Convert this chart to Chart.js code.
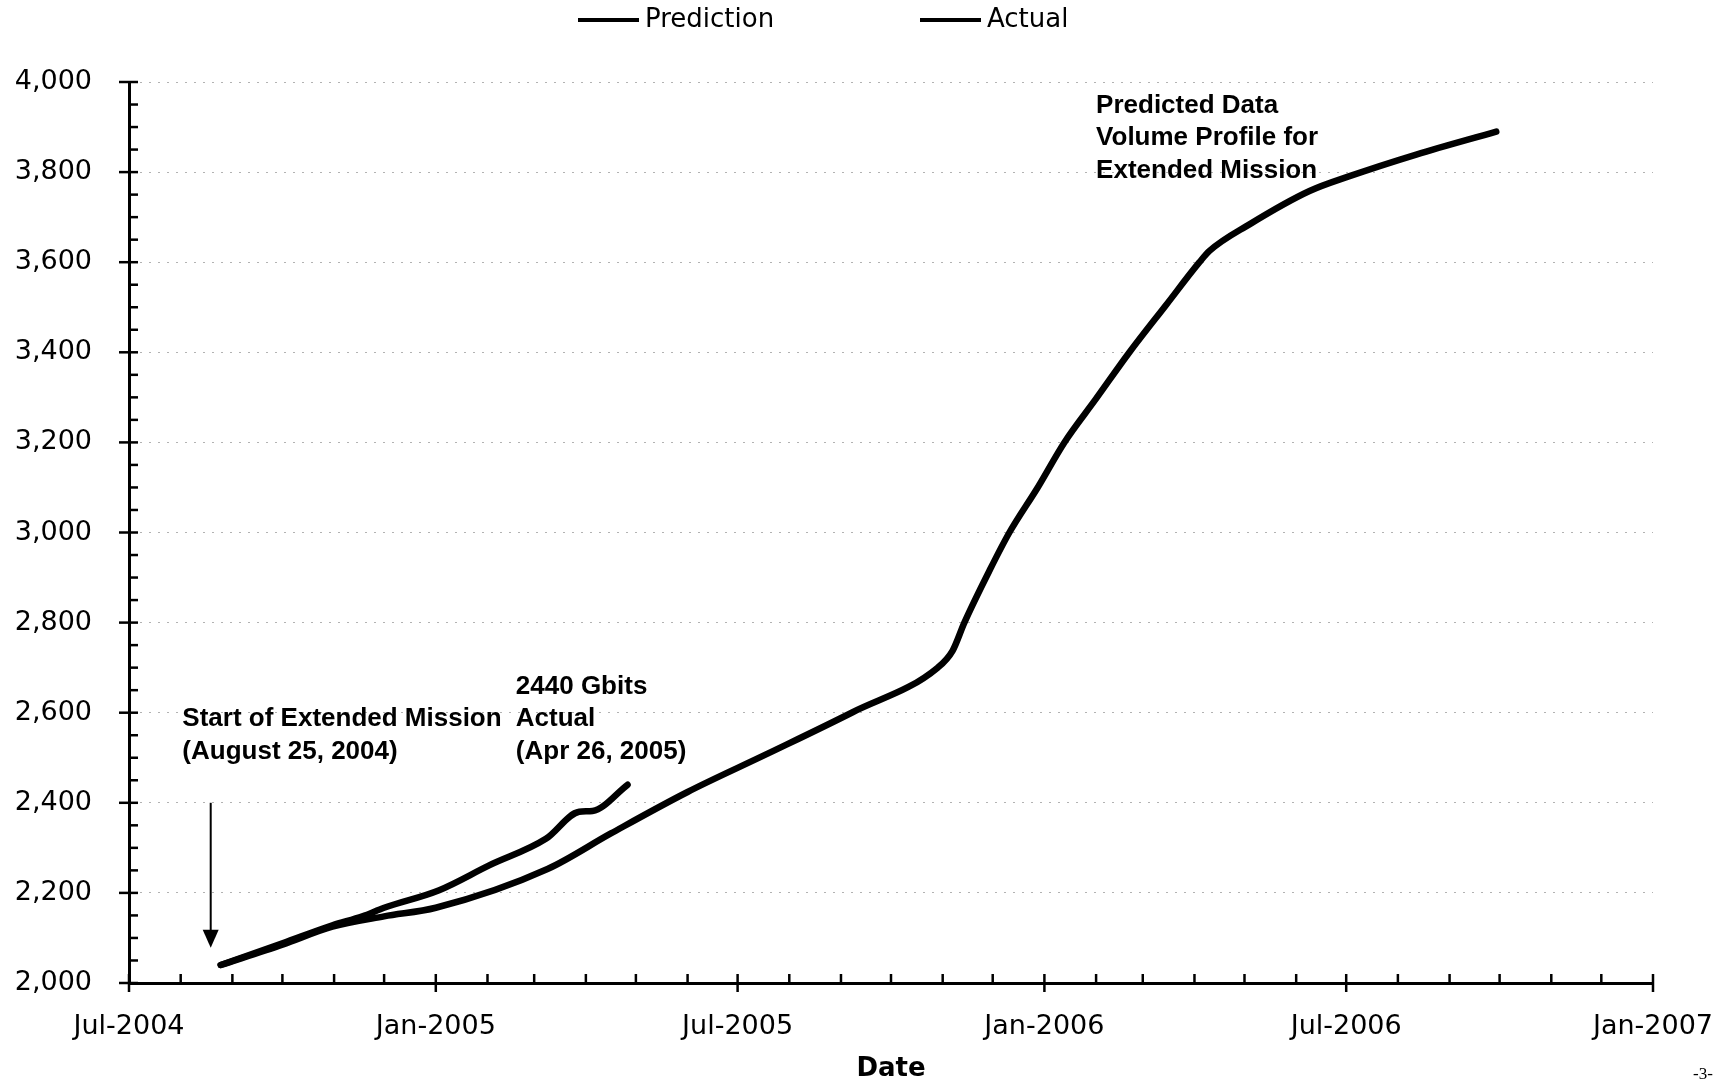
<!DOCTYPE html>
<html>
<head>
<meta charset="utf-8">
<script src="https://cdn.jsdelivr.net/npm/chart.js@4.4.0/dist/chart.umd.min.js"></script>
<style>
html,body{margin:0;padding:0;background:#fff;}
#wrap{width:1733px;height:1082px;}
</style>
</head>
<body>
<div id="wrap"><canvas id="c" width="1733" height="1082"></canvas></div>
<script>
// ---- data ----
const AXIS_START = '2004-07-01';
const AXIS_END = '2007-01-01';
const seriesLabels = ['Prediction', 'Actual'];

const predictionDates = ['2004-08-25','2004-10-01','2004-10-31','2004-12-01','2005-01-01','2005-03-09','2005-04-16','2005-06-01','2005-07-19','2005-09-08','2005-10-29','2005-11-07','2005-11-14','2005-11-29','2005-12-11','2005-12-28','2006-01-13','2006-02-01','2006-02-21','2006-03-15','2006-04-04','2006-04-10','2006-05-04','2006-06-09','2006-07-03','2006-08-12','2006-09-29'];
const predictionValues = [2040,2085,2125,2148,2167,2253,2332,2424,2509,2601,2700,2738,2800,2915,3000,3100,3200,3297,3400,3505,3600,3625,3684,3758,3791,3839,3890];

const actualDates = ['2004-08-25','2004-10-01','2004-10-31','2004-11-18','2004-12-01','2005-01-03','2005-02-02','2005-03-08','2005-03-28','2005-04-05','2005-04-26'];
const actualValues = [2040,2088,2128,2148,2167,2206,2261,2320,2380,2382,2440];

const yMin = 2000, yMax = 4000, yMajorStep = 200, yMinorStep = 50;
const monthNames = ['Jan','Feb','Mar','Apr','May','Jun','Jul','Aug','Sep','Oct','Nov','Dec'];

const annotationTexts = [
  {date: '2004-08-02', value: 2586, lines: ['Start of Extended Mission', '(August 25, 2004)']},
  {date: '2005-02-18', value: 2658, lines: ['2440 Gbits', 'Actual', '(Apr 26, 2005)']},
  {date: '2006-02-01', value: 3948, lines: ['Predicted Data', 'Volume Profile for', 'Extended Mission']}
];
const arrowSpec = {date: '2004-08-19', from: 2400, to: 2078};

// ---- helpers ----
const DAY = 86400000;
function utc(s){ const [y,m,d] = s.split('-').map(Number); return Date.UTC(y, m-1, d); }
const ORIGIN = utc(AXIS_START);
function toDay(s){ return (utc(s) - ORIGIN) / DAY; }
function dayToDate(v){ return new Date(ORIGIN + v * DAY); }

const monthTicks = [];
(function(){
  const s = new Date(ORIGIN), endDay = toDay(AXIS_END);
  let y = s.getUTCFullYear(), m = s.getUTCMonth();
  while (true) {
    const v = (Date.UTC(y, m, 1) - ORIGIN) / DAY;
    if (v > endDay) break;
    monthTicks.push(v);
    m++; if (m > 11) { m = 0; y++; }
  }
})();
function isMajor(v){ const m = dayToDate(v).getUTCMonth(); return m === 0 || m === 6; }
function xLabel(v){
  const d = dayToDate(v);
  return isMajor(v) ? monthNames[d.getUTCMonth()] + '-' + d.getUTCFullYear() : '';
}

const decor = {
  id: 'decor',
  afterDraw(chart){
    const {ctx, chartArea: a, scales: {x, y}} = chart;
    ctx.save();
    ctx.strokeStyle = '#000';
    ctx.lineWidth = 2.5;
    // x tick marks
    monthTicks.forEach(v => {
      const px = x.getPixelForValue(v);
      ctx.beginPath();
      ctx.moveTo(px, a.bottom - 9);
      ctx.lineTo(px, a.bottom + (isMajor(v) ? 9 : 0));
      ctx.stroke();
    });
    // y tick marks
    for (let v = yMin; v <= yMax; v += yMinorStep) {
      const py = y.getPixelForValue(v);
      const major = v % yMajorStep === 0;
      ctx.beginPath();
      ctx.moveTo(a.left - (major ? 10 : 0), py);
      ctx.lineTo(a.left + 9, py);
      ctx.stroke();
    }
    // arrow
    const ax = x.getPixelForValue(toDay(arrowSpec.date));
    const ay0 = y.getPixelForValue(arrowSpec.from);
    const ay1 = y.getPixelForValue(arrowSpec.to);
    ctx.lineWidth = 2;
    ctx.beginPath(); ctx.moveTo(ax, ay0); ctx.lineTo(ax, ay1 - 16); ctx.stroke();
    ctx.fillStyle = '#000';
    ctx.beginPath(); ctx.moveTo(ax - 8, ay1 - 18); ctx.lineTo(ax + 8, ay1 - 18); ctx.lineTo(ax, ay1); ctx.closePath(); ctx.fill();
    // annotation texts
    ctx.font = 'bold 26px "Liberation Sans", Arial, sans-serif';
    ctx.textBaseline = 'middle';
    ctx.textAlign = 'left';
    annotationTexts.forEach(an => {
      const tx = x.getPixelForValue(toDay(an.date));
      const ty = y.getPixelForValue(an.value);
      an.lines.forEach((t, i) => ctx.fillText(t, tx, ty + i * 32.5));
    });
    // legend
    const legendX = [578, 920];
    ctx.font = '26px "DejaVu Sans", Verdana, sans-serif';
    chart.data.datasets.forEach((ds, i) => {
      ctx.strokeStyle = ds.borderColor;
      ctx.lineWidth = 4;
      ctx.beginPath(); ctx.moveTo(legendX[i], 20); ctx.lineTo(legendX[i] + 61, 20); ctx.stroke();
      ctx.fillStyle = '#000';
      ctx.fillText(ds.label, legendX[i] + 67, 20);
    });
    // page number
    ctx.font = '17px "Liberation Serif", serif';
    ctx.fillText('-3-', 1693, 1075);
    ctx.restore();
  }
};

function pts(dates, vals){ return dates.map((d, i) => ({x: toDay(d), y: vals[i]})); }

new Chart(document.getElementById('c'), {
  type: 'line',
  data: {
    datasets: [
      {label: seriesLabels[0], data: pts(predictionDates, predictionValues), borderColor: '#000', backgroundColor: '#000', borderWidth: 6.5, pointRadius: 0, cubicInterpolationMode: 'monotone', fill: false, borderCapStyle: 'round', borderJoinStyle: 'round'},
      {label: seriesLabels[1], data: pts(actualDates, actualValues), borderColor: '#000', backgroundColor: '#000', borderWidth: 6.5, pointRadius: 0, cubicInterpolationMode: 'monotone', fill: false, borderCapStyle: 'round', borderJoinStyle: 'round'}
    ]
  },
  options: {
    responsive: false,
    animation: false,
    devicePixelRatio: 1,
    layout: {padding: {left: 15, right: 80, top: 82, bottom: 0}},
    plugins: {legend: {display: false}, tooltip: {enabled: false}},
    scales: {
      x: {
        type: 'linear',
        min: 0,
        max: toDay(AXIS_END),
        afterBuildTicks: s => { s.ticks = monthTicks.map(v => ({value: v})); },
        afterFit: s => { s.height = 99; s.paddingRight = 80; s.paddingLeft = 0; },
        ticks: {autoSkip: false, maxRotation: 0, minRotation: 0, padding: 28, color: '#000',
                font: {family: '"DejaVu Sans", Verdana, sans-serif', size: 27},
                callback: v => xLabel(v)},
        grid: {display: false, drawTicks: false},
        border: {display: true, color: '#000', width: 3},
        title: {display: true, text: 'Date', color: '#000',
                font: {family: '"DejaVu Sans", Verdana, sans-serif', size: 26, weight: 'bold', lineHeight: 1},
                padding: {top: 12, bottom: 0}}
      },
      y: {
        min: yMin,
        max: yMax,
        afterFit: s => { s.width = 114; },
        ticks: {stepSize: yMajorStep, padding: 37, color: '#000',
                font: {family: '"DejaVu Sans", Verdana, sans-serif', size: 27},
                callback: v => Number(v).toLocaleString('en-US')},
        grid: {color: 'rgba(0,0,0,0.3)', lineWidth: 1, drawTicks: false},
        border: {display: true, color: '#000', width: 3, dash: [2, 7]}
      }
    }
  },
  plugins: [decor]
});
</script>
</body>
</html>
